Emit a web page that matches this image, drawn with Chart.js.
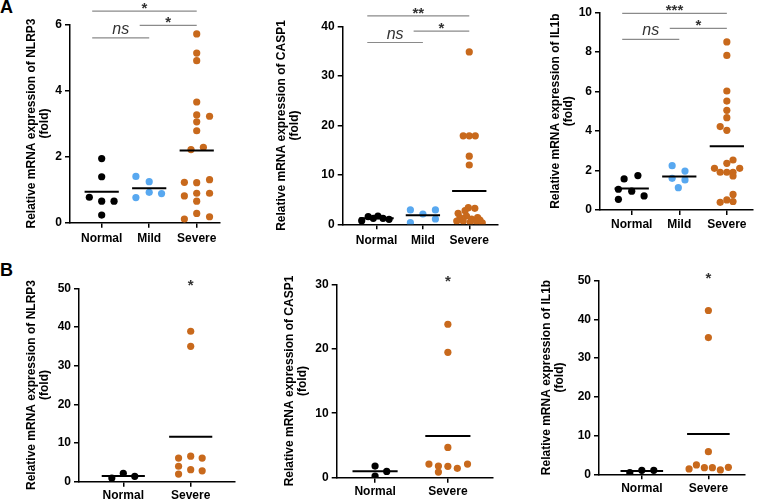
<!DOCTYPE html>
<html>
<head>
<meta charset="utf-8">
<script src="https://cdn.jsdelivr.net/npm/chart.js@4.4.0/dist/chart.umd.min.js"></script>
<style>
  body { margin: 0; background: #fff; width: 760px; height: 499px; position: relative; overflow: hidden; font-family: "Liberation Sans", Arial, sans-serif; }
  .panel { position: absolute; }
  .tag { position: absolute; font-weight: bold; font-size: 18px; line-height: 18px; }
</style>
</head>
<body>
<div class="tag" style="left:0;top:-2px">A</div>
<div class="tag" style="left:0;top:261px">B</div>
<div class="panel" style="left:25px;top:0;width:200px;height:250px"><canvas id="a1"></canvas></div>
<div class="panel" style="left:275px;top:0;width:230px;height:250px"><canvas id="a2"></canvas></div>
<div class="panel" style="left:549px;top:0;width:211px;height:250px"><canvas id="a3"></canvas></div>
<div class="panel" style="left:25px;top:255px;width:215px;height:244px"><canvas id="b1"></canvas></div>
<div class="panel" style="left:283px;top:255px;width:215px;height:244px"><canvas id="b2"></canvas></div>
<div class="panel" style="left:540px;top:255px;width:215px;height:244px"><canvas id="b3"></canvas></div>
<script>
// groups
const groupsA = ['Normal', 'Mild', 'Severe'];
const groupsB = ['Normal', 'Severe'];

// A: NLRP3
const nlrp3ANormal = [1.94, 1.39, 0.77, 0.65, 0.65, 0.23];
const nlrp3AMild = [1.40, 1.24, 0.76, 0.92, 0.88];
const nlrp3ASevere = [5.71, 5.13, 4.90, 3.65, 3.26, 3.22, 3.05, 2.78, 2.21, 2.28, 1.22, 1.21, 1.30, 0.81, 0.89, 0.89, 0.65, 0.28, 0.11, 0.18];
const nlrp3ATicks = [0, 2, 4, 6];
const nlrp3ASig = [
    { from: 0, to: 1, y: 5.59, text: 'ns' },
    { from: 1, to: 2, y: 5.97, text: '*' },
    { from: 0, to: 2, y: 6.40, text: '*' }
];

// A: CASP1
const casp1ANormal = [0.73, 1.54, 1.21, 1.68, 1.21, 1.01];
const casp1AMild = [2.9, 2.08, 2.9, 0.33, 1.07];
const casp1ASevere = [34.9, 17.9, 17.9, 17.9, 13.8, 12.0, 3.36, 3.24, 2.75, 2.23, 1.68, 1.34, 1.34, 1.07, 0.87, 0.67, 0.67, 0.53, 0.40, 0.30];
const casp1ATicks = [0, 10, 20, 30, 40];
const casp1ASig = [
    { from: 0, to: 1, y: 36.8, text: 'ns' },
    { from: 1, to: 2, y: 39.1, text: '*' },
    { from: 0, to: 2, y: 42.2, text: '**' }
];

// A: IL1b
const il1bANormal = [1.57, 1.74, 1.05, 0.95, 0.71, 0.54];
const il1bAMild = [2.24, 1.97, 1.60, 1.52, 1.13];
const il1bASevere = [8.50, 7.82, 6.02, 5.51, 5.04, 4.67, 4.22, 4.03, 2.53, 2.36, 2.11, 2.11, 1.91, 1.91, 1.91, 1.72, 0.79, 0.39, 0.51, 0.43];
const il1bATicks = [0, 2, 4, 6, 8, 10];
const il1bASig = [
    { from: 0, to: 1, y: 8.63, text: 'ns' },
    { from: 1, to: 2, y: 9.19, text: '*' },
    { from: 0, to: 2, y: 9.95, text: '***' }
];

// B: NLRP3
const nlrp3BNormal = [0.95, 2.16, 1.38];
const nlrp3BSevere = [38.9, 35.0, 6.1, 6.6, 6.1, 4.0, 3.1, 2.8, 1.98];
const nlrp3BTicks = [0, 10, 20, 30, 40, 50];
const nlrp3BSig = [{ from: 1, to: 1, y: 51.7, text: '*' }];

// B: CASP1
const casp1BNormal = [1.81, 0.98, 0.26];
const casp1BSevere = [23.8, 19.45, 4.7, 2.12, 1.81, 1.76, 1.45, 2.12, 0.88];
const casp1BTicks = [0, 10, 20, 30];
const casp1BSig = [{ from: 1, to: 1, y: 31.0, text: '*' }];

// B: IL1b
const il1bBNormal = [0.43, 1.03, 1.03];
const il1bBSevere = [42.3, 35.3, 5.85, 1.38, 2.41, 1.72, 1.72, 1.12, 1.81];
const il1bBTicks = [0, 10, 20, 30, 40, 50];
const il1bBSig = [{ from: 1, to: 1, y: 51.6, text: '*' }];

// scatter spread of the dots (category units)
const spreadA1 = [[0, 0, -0.26, 0, 0.26, 0], [-0.28, 0, -0.28, 0, 0.26],
    [0, 0, 0, 0, 0, 0.27, 0, 0, -0.12, 0.14, -0.26, 0, 0.27, -0.26, 0, 0.27, 0, 0, -0.26, 0.27]];
const spreadA2 = [[-0.32, -0.18, -0.07, 0.03, 0.14, 0.27], [-0.27, 0, 0.27, -0.27, 0.27],
    [0, -0.13, 0, 0.13, 0, 0, -0.02, 0.12, -0.09, -0.24, -0.06, -0.2, 0.18, 0.05, 0.23, -0.27, -0.13, 0.16, 0.02, 0.28]];
const spreadA3 = [[-0.16, 0.13, -0.28, 0, 0.26, -0.28], [-0.15, 0.12, -0.15, 0.12, -0.02],
    [0, 0, 0, 0, 0, 0, -0.14, 0, 0.13, 0, -0.26, 0.27, -0.14, 0, 0.13, 0.13, 0.13, -0.14, 0, 0.13]];
const spreadB1 = [[-0.17, 0, 0.17], [0, 0, -0.18, 0, 0.17, -0.18, 0, 0.17, -0.18]];
const spreadB2 = [[0, 0.16, 0], [0, 0, 0, -0.26, -0.13, 0, 0.13, 0.27, -0.13]];
const spreadB3 = [[-0.18, 0, 0.18], [0, 0, 0, -0.29, -0.18, -0.06, 0.06, 0.18, 0.3]];

const groupColors = { Normal: '#000000', Mild: '#58a8f0', Severe: '#c8691c' };
const FONT = '"Liberation Sans", Arial, sans-serif';

const sigPlugin = {
    id: 'sig',
    afterDatasetsDraw(chart, args, opts) {
        const ctx = chart.ctx;
        const xs = chart.scales.x, ys = chart.scales.y;
        ctx.save();
        (opts.bars || []).forEach(b => {
            const y = ys.getPixelForValue(b.y);
            let cx = xs.getPixelForValue(b.from);
            let cy = y;
            if (b.from !== b.to) {
                const x1 = xs.getPixelForValue(b.from - 0.2);
                const x2 = xs.getPixelForValue(b.to);
                ctx.strokeStyle = '#8a8a8a';
                ctx.lineWidth = 1.2;
                ctx.beginPath();
                ctx.moveTo(x1, y);
                ctx.lineTo(x2, y);
                ctx.stroke();
                cx = (x1 + x2) / 2;
                cy = y - 6;
            }
            ctx.textAlign = 'center';
            ctx.textBaseline = 'alphabetic';
            ctx.fillStyle = '#333';
            if (b.text === 'ns') {
                ctx.font = 'italic 16px ' + FONT;
                ctx.fillText(b.text, cx, y - 4);
            } else {
                ctx.font = 'bold 15px ' + FONT;
                ctx.fillText(b.text, cx, cy + 8);
            }
        });
        ctx.restore();
    }
};

function makePanel(id, p) {
    const datasets = [];
    p.groups.forEach((g, i) => {
        const vals = p.values[i];
        const mean = vals.reduce((s, v) => s + v, 0) / vals.length;
        datasets.push({
            data: [{ x: i - p.meanHalf, y: mean }, { x: i + p.meanHalf, y: mean }],
            showLine: true, borderColor: '#000', borderWidth: 2, pointRadius: 0, clip: false
        });
    });
    p.groups.forEach((g, i) => {
        datasets.push({
            data: p.values[i].map((v, k) => ({ x: i + p.spread[i][k], y: v })),
            backgroundColor: groupColors[g], borderWidth: 0, pointRadius: 3.6, pointHoverRadius: 3.6
        });
    });
    const tickFont = { family: FONT, size: 12, weight: 'bold' };
    new Chart(document.getElementById(id), {
        type: 'scatter',
        data: { datasets },
        plugins: [sigPlugin],
        options: {
            responsive: true,
            maintainAspectRatio: false,
            animation: false,
            events: [],
            layout: { padding: { left: 0, top: p.padTop, right: p.padRight, bottom: 0 } },
            plugins: { legend: { display: false }, tooltip: { enabled: false }, sig: { bars: p.sig } },
            scales: {
                x: {
                    type: 'linear', min: p.xMin, max: p.xMax,
                    afterBuildTicks: s => { s.ticks = p.groups.map((g, i) => ({ value: i })); },
                    ticks: { callback: v => p.groups[v], color: '#000', font: tickFont, padding: p.xPad, maxRotation: 0, autoSkip: false },
                    grid: { display: true, drawOnChartArea: false, drawTicks: true, tickLength: 5, color: '#000', lineWidth: 1.5 },
                    border: { display: true, color: '#000', width: 1.5 },
                    afterFit: s => { s.height = p.xAxisH; s.paddingLeft = 0; s.paddingRight = 0; }
                },
                y: {
                    type: 'linear', min: 0, max: p.ticks[p.ticks.length - 1],
                    afterBuildTicks: s => { s.ticks = p.ticks.map(v => ({ value: v })); },
                    ticks: { color: '#000', font: tickFont, padding: 3 },
                    grid: { display: true, drawOnChartArea: false, drawTicks: true, tickLength: 5, color: '#000', lineWidth: 1.5 },
                    border: { display: true, color: '#000', width: 1.5 },
                    title: { display: true, text: [p.title, '(fold)'], color: '#000', font: { family: FONT, size: 12, weight: 'bold', lineHeight: 1.1 }, padding: { top: 0, bottom: 0 } },
                    afterFit: s => { s.width = p.yAxisW; s.paddingTop = 0; s.paddingBottom = 0; }
                }
            }
        }
    });
}

makePanel('a1', {
    groups: groupsA, values: [nlrp3ANormal, nlrp3AMild, nlrp3ASevere], spread: spreadA1,
    ticks: nlrp3ATicks, sig: nlrp3ASig, title: 'Relative mRNA expression of NLRP3',
    xMin: -0.667, xMax: 2.49, meanHalf: 0.36, padTop: 24.3, padRight: 5, xAxisH: 27.3, yAxisW: 45, xPad: 4
});
makePanel('a2', {
    groups: groupsA, values: [casp1ANormal, casp1AMild, casp1ASevere], spread: spreadA2,
    ticks: casp1ATicks, sig: casp1ASig, title: 'Relative mRNA expression of CASP1',
    xMin: -0.73, xMax: 2.62, meanHalf: 0.37, padTop: 26.7, padRight: 7, xAxisH: 25.7, yAxisW: 67.7, xPad: 4
});
makePanel('a3', {
    groups: groupsA, values: [il1bANormal, il1bAMild, il1bASevere], spread: spreadA3,
    ticks: il1bATicks, sig: il1bASig, title: 'Relative mRNA expression of IL1b',
    xMin: -0.667, xMax: 2.55, meanHalf: 0.36, padTop: 12.3, padRight: 7, xAxisH: 40, yAxisW: 51, xPad: 2
});
makePanel('b1', {
    groups: groupsB, values: [nlrp3BNormal, nlrp3BSevere], spread: spreadB1,
    ticks: nlrp3BTicks, sig: nlrp3BSig, title: 'Relative mRNA expression of NLRP3',
    xMin: -0.657, xMax: 1.657, meanHalf: 0.32, padTop: 33.3, padRight: 5, xAxisH: 17.3, yAxisW: 54, xPad: 2
});
makePanel('b2', {
    groups: groupsB, values: [casp1BNormal, casp1BSevere], spread: spreadB2,
    ticks: casp1BTicks, sig: casp1BSig, title: 'Relative mRNA expression of CASP1',
    xMin: -0.527, xMax: 1.62, meanHalf: 0.31, padTop: 29.3, padRight: 5, xAxisH: 21.3, yAxisW: 53.7, xPad: 2
});
makePanel('b3', {
    groups: groupsB, values: [il1bBNormal, il1bBSevere], spread: spreadB3,
    ticks: il1bBTicks, sig: il1bBSig, title: 'Relative mRNA expression of IL1b',
    xMin: -0.643, xMax: 1.55, meanHalf: 0.32, padTop: 25.7, padRight: 10, xAxisH: 24.7, yAxisW: 59, xPad: 2
});
</script>
</body>
</html>
